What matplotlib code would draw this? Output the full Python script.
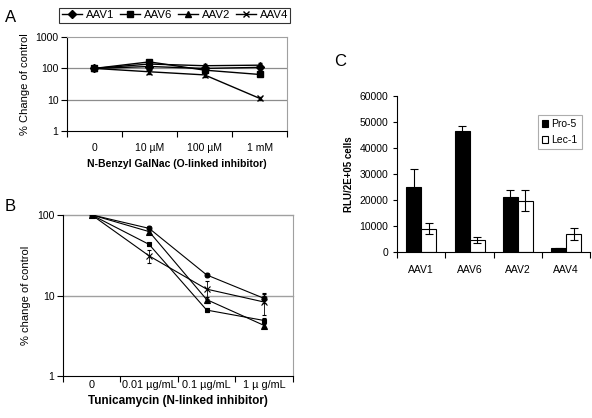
import numpy as np
import matplotlib
matplotlib.use("Agg")
import matplotlib.pyplot as plt
from matplotlib.lines import Line2D

plt.rcParams["font.family"] = ["Liberation Sans", "DejaVu Sans"]

# Panel A: N-Benzyl GalNac
a_labels = ["0", "10 µM", "100 µM", "1 mM"]
a_aav1 = [100, 115, 100, 108]
a_aav6 = [100, 162, 88, 64]
a_aav2 = [100, 138, 122, 127]
a_aav4 = [100, 78, 62, 11]
a_err1 = [5, 15, 12, 18]
a_err6 = [5, 20, 12, 8]
a_err2 = [5, 20, 20, 20]
a_err4 = [5, 10, 8, 1.2]

# Panel B: Tunicamycin
b_labels = ["0", "0.01 µg/mL", "0.1 µg/mL", "1 µ g/mL"]
b_aav1 = [100, 68, 18, 9.2]
b_aav6 = [100, 43, 6.6, 4.9]
b_aav2 = [100, 62, 8.9, 4.25]
b_aav4 = [100, 31, 12, 8.3]
b_err1 = [0, 5, 1, 1.2]
b_err6 = [0, 2, 0.4, 0.4]
b_err2 = [0, 4, 0.8, 0.3]
b_err4 = [0, 5.5, 3, 2.5]

# Panel C: bars
c_cats = ["AAV1", "AAV6", "AAV2", "AAV4"]
c_pro5 = [25000, 46500, 21000, 1400]
c_lec1 = [9000, 4600, 19800, 7000]
c_pro5_err = [7000, 2200, 2700, 300]
c_lec1_err = [2200, 1100, 4000, 2300]

fig = plt.figure(figsize=(5.92, 4.18), dpi=100)

series_style = [("AAV1", "D", 4), ("AAV6", "s", 4), ("AAV2", "^", 4.5), ("AAV4", "x", 5)]


def excel_axes(ax, labels, ylim, yticks, pad, fs):
    ax.set_yscale("log")
    ax.set_ylim(*ylim)
    ax.set_xlim(-0.5, len(labels) - 0.5)
    ax.set_yticks(yticks)
    ax.set_yticklabels([str(t) for t in yticks], fontsize=7.5)
    ax.yaxis.set_minor_locator(matplotlib.ticker.NullLocator())
    ax.set_xticks(np.arange(-0.5, len(labels)))
    ax.set_xticklabels([])
    ax.set_xticks(np.arange(len(labels)), minor=True)
    ax.set_xticklabels(labels, minor=True, fontsize=fs)
    ax.tick_params(axis="x", which="minor", length=0, pad=pad)
    ax.tick_params(axis="x", which="major", length=4, direction="out", width=0.8)
    ax.tick_params(axis="y", length=4, direction="out", width=0.8, pad=2)
    for s in ["top", "right"]:
        ax.spines[s].set_color("#a0a0a0")
    for s in ["left", "bottom"]:
        ax.spines[s].set_color("black")


# ---- A ----
axA = fig.add_axes([0.113, 0.687, 0.372, 0.224])
excel_axes(axA, a_labels, (1, 1000), [1, 10, 100, 1000], 9, 7.5)
for v in [10, 100]:
    axA.axhline(v, color="#8c8c8c", lw=0.9, zorder=0)
x = np.arange(4)
handles = []
for (name, mk, ms), vals, err in zip(series_style, [a_aav1, a_aav6, a_aav2, a_aav4],
                                     [a_err1, a_err6, a_err2, a_err4]):
    axA.errorbar(x, vals, yerr=err, color="black", marker=mk, ms=ms, lw=1,
                 elinewidth=0.7, capsize=1.5, mew=1)
    handles.append(Line2D([], [], color="black", marker=mk, ms=ms, lw=1, mew=1, label=name))
axA.set_ylabel("% Change of control", fontsize=8)
axA.set_xlabel("N-Benzyl GalNac (O-linked inhibitor)", fontsize=7.5, fontweight="bold")
leg = axA.legend(handles=handles, ncol=4, loc="lower center", bbox_to_anchor=(0.49, 1.155),
                 fontsize=8.2, frameon=True, fancybox=False, edgecolor="black",
                 handlelength=1.8, columnspacing=0.5, handletextpad=0.3, borderpad=0.2,
                 borderaxespad=0)
leg.get_frame().set_linewidth(0.8)

# ---- B ----
axB = fig.add_axes([0.106, 0.100, 0.389, 0.386])
excel_axes(axB, b_labels, (1, 100), [1, 10, 100], 3, 7.8)
axB.spines["top"].set_visible(False)
for v in [10, 100]:
    axB.axhline(v, color="#a0a0a0", lw=1, zorder=0, clip_on=False)
b_style = [("AAV1", "o", 3.5), ("AAV6", "s", 3.5), ("AAV2", "^", 4), ("AAV4", "x", 4.5)]
for (name, mk, ms), vals, err in zip(b_style, [b_aav1, b_aav6, b_aav2, b_aav4],
                                     [b_err1, b_err6, b_err2, b_err4]):
    axB.errorbar(x, vals, yerr=err, color="black", marker=mk, ms=ms, lw=0.8,
                 elinewidth=0.6, capsize=1.5, mew=0.8)
axB.set_ylabel("% change of control", fontsize=8)
axB.set_xlabel("Tunicamycin (N-linked inhibitor)", fontsize=8.5, fontweight="bold", labelpad=3)

# ---- C ----
axC = fig.add_axes([0.671, 0.397, 0.326, 0.373])
w = 0.31
xc = np.arange(len(c_cats))
axC.bar(xc - w / 2, c_pro5, w, color="black", edgecolor="black", lw=0.8,
        yerr=c_pro5_err, capsize=3, error_kw=dict(elinewidth=0.8, capthick=0.8), label="Pro-5")
axC.bar(xc + w / 2, c_lec1, w, color="white", edgecolor="black", lw=0.8,
        yerr=c_lec1_err, capsize=3, error_kw=dict(elinewidth=0.8, capthick=0.8), label="Lec-1")
axC.set_xlim(-0.5, 3.5)
axC.set_ylim(0, 60000)
axC.set_yticks(np.arange(0, 60001, 10000))
axC.tick_params(axis="y", labelsize=7.5, length=3, width=0.8)
axC.set_xticks(np.arange(-0.5, 4))
axC.set_xticklabels([])
axC.set_xticks(xc, minor=True)
axC.set_xticklabels(c_cats, minor=True, fontsize=7.5)
axC.tick_params(axis="x", which="minor", length=0, pad=9)
axC.tick_params(axis="x", which="major", length=4, width=0.8)
for s in ["top", "right"]:
    axC.spines[s].set_visible(False)
axC.set_ylabel("RLU/2E+05 cells", fontsize=7, fontweight="bold")
legC = axC.legend(loc="upper right", bbox_to_anchor=(0.955, 0.88), fontsize=7.5, frameon=True,
                  fancybox=False, edgecolor="#999999", handlelength=0.6, handleheight=0.6,
                  handletextpad=0.3, borderpad=0.4, labelspacing=0.6, borderaxespad=0)
legC.get_frame().set_linewidth(0.8)

# panel letters
fig.text(0.008, 0.975, "A", fontsize=12, va="top")
fig.text(0.008, 0.525, "B", fontsize=12, va="top")
fig.text(0.565, 0.87, "C", fontsize=12, va="top")

fig.savefig("out.png", dpi=100)
